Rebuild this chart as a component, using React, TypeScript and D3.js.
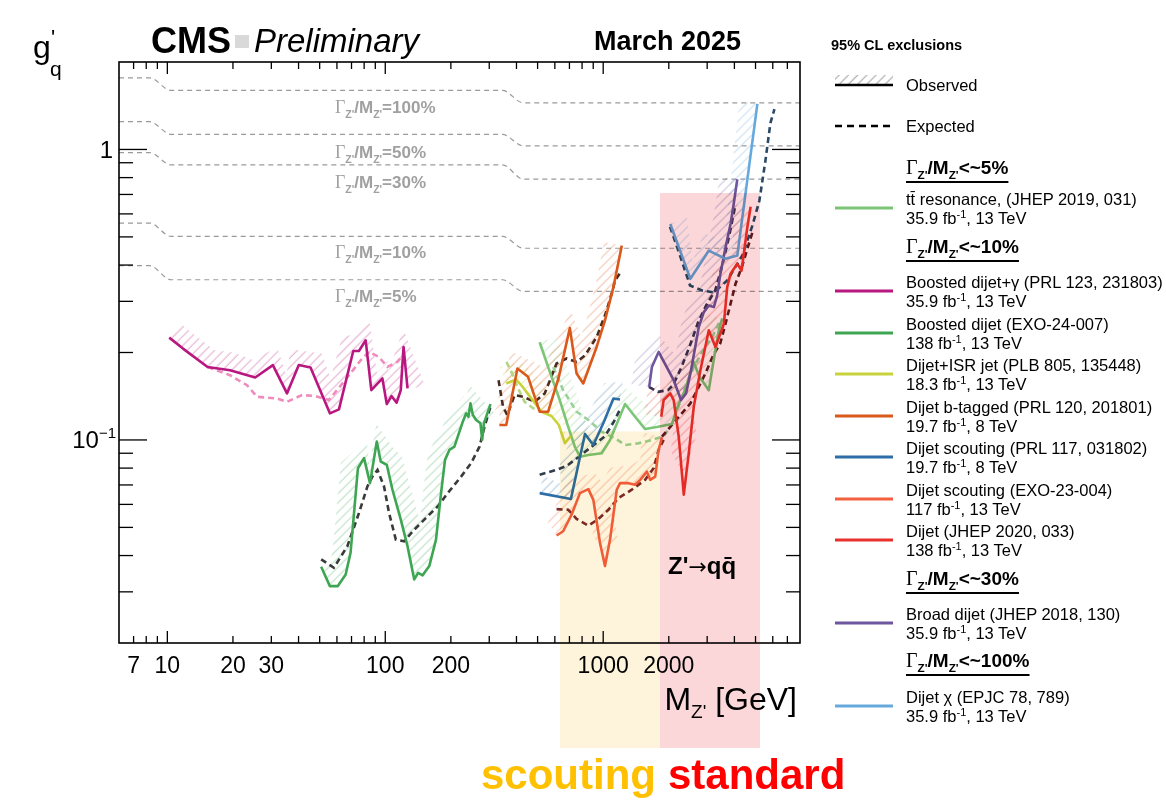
import React, { useEffect, useRef } from "react";
import * as d3 from "d3";

type Pt = [number, number];

// tick labels on the mass axis
const xTickLabels = [7, 10, 20, 30, 100, 200, 1000, 2000];

// Gamma/M reference curves: g'q below b threshold, between b and t, above t
const widthNames = ["100%", "50%", "30%", "10%", "5%"];
const widthLow = [1.763, 1.246, 0.975, 0.558, 0.398];
const widthMid = [1.596, 1.127, 0.885, 0.502, 0.356];
const widthHigh = [1.447, 1.028, 0.79, 0.457, 0.3245];
const widthLabelAt = [1.4, 0.982, 0.774, 0.444, 0.313];
const widthKnots = [6, 8.3, 10.4, 345, 430, 8000];

// [mass GeV, g'q]
const ttbarObs: Pt[] = [[511, 0.217], [569, 0.1715], [632, 0.1372], [691, 0.111], [741, 0.0948], [782, 0.0876], [855, 0.0888], [984, 0.09], [1075, 0.1], [1260, 0.1329], [1401, 0.1202], [1558, 0.109], [1764, 0.1108], [2069, 0.1135], [2182, 0.1288], [2375, 0.1484], [2604, 0.1856], [2754, 0.1658], [3052, 0.1484], [3229, 0.1927], [3395, 0.2384], [3517, 0.2621]];
const ttbarExp: Pt[] = [[590, 0.1784], [655, 0.1484], [755, 0.1251], [855, 0.1171], [984, 0.1068], [1133, 0.1013], [1260, 0.0961], [1453, 0.0974], [1673, 0.1], [1900, 0.1032], [2069, 0.1135], [2228, 0.1318], [2400, 0.1544], [2613, 0.1794], [2844, 0.2009], [3162, 0.2261], [3443, 0.258]];

const gammaObs: Pt[] = [[10.2, 0.225], [11.8, 0.2063], [15.3, 0.1784], [19.4, 0.1738], [25.3, 0.1641], [30.5, 0.181], [35.4, 0.1446], [40.1, 0.181], [45.4, 0.1776], [55.7, 0.1235], [61.3, 0.1274], [71.3, 0.2024], [75.7, 0.2024], [81.3, 0.2203], [86.3, 0.1484], [97, 0.1628], [101.6, 0.1329], [106.8, 0.1416], [112.7, 0.1343], [117.8, 0.1484], [121.3, 0.209], [126.5, 0.1504]];
const gammaExp: Pt[] = [[15.3, 0.1784], [19.4, 0.167], [23.2, 0.1544], [25.8, 0.1408], [31.8, 0.139], [35.4, 0.1353], [41.5, 0.1427], [47.8, 0.1416], [55.1, 0.1372], [65.8, 0.1615], [77.1, 0.188], [84.2, 0.2009], [93.6, 0.1931], [102.3, 0.1784], [113.7, 0.1856], [122.2, 0.1984]];

const boostedObs: Pt[] = [[50.8, 0.0366], [55.7, 0.0314], [60.6, 0.0314], [65.8, 0.0344], [69.3, 0.0409], [74.9, 0.0799], [79.9, 0.0866], [85.1, 0.071], [91.4, 0.0987], [95.3, 0.0843], [101.6, 0.0821], [107.9, 0.0674], [117.8, 0.0532], [126.5, 0.0431], [135.8, 0.0331], [141.6, 0.0349], [148.4, 0.0342], [159.2, 0.0368], [170.9, 0.0454], [180.3, 0.0656], [188, 0.0854], [196.8, 0.0924], [207.6, 0.0948], [226.9, 0.1156], [235, 0.1235], [240.8, 0.1202], [246, 0.1336], [252.4, 0.1218], [261.3, 0.1171], [273.4, 0.1141], [278.4, 0.1], [283.5, 0.1141], [304, 0.1329]];
const boostedExp: Pt[] = [[50.8, 0.0388], [58.1, 0.0363], [67, 0.0431], [75.7, 0.056], [82.8, 0.0692], [87.3, 0.0748], [92.1, 0.0789], [98.7, 0.0692], [104.1, 0.056], [111.8, 0.0454], [122.1, 0.0448], [135.8, 0.0491], [156.5, 0.0546], [174, 0.059], [193.4, 0.0656], [222.8, 0.0748], [247.7, 0.0832], [270.6, 0.0948], [285.3, 0.111], [304, 0.1301]];

const isrObs: Pt[] = [[359, 0.1565], [399, 0.1615], [429, 0.1516], [468, 0.139], [521, 0.1251], [579, 0.1209], [626, 0.1126], [667, 0.0974], [711, 0.1032]];
const isrExp: Pt[] = [[360, 0.1856], [379, 0.1715], [407, 0.1504], [436, 0.1353], [477, 0.1285], [511, 0.1268]];

const btagObs: Pt[] = [[334, 0.1126], [359, 0.1126], [404, 0.1762], [452, 0.1649], [511, 0.1251], [559, 0.1251], [626, 0.1649], [703, 0.2428], [755, 0.1694], [810, 0.1565], [933, 0.209], [1019, 0.258], [1114, 0.3357], [1217, 0.4666]];
const btagExp: Pt[] = [[331, 0.1606], [347, 0.1301], [363, 0.1218], [392, 0.1427], [429, 0.1408], [485, 0.1353], [539, 0.1446], [611, 0.1833], [679, 0.1907], [755, 0.1856], [826, 0.1956], [933, 0.2261], [1019, 0.2685], [1094, 0.3187], [1133, 0.3539], [1217, 0.383]];

const scout8Obs: Pt[] = [[511, 0.0656], [711, 0.0626], [763, 0.0801], [825, 0.1049], [901, 0.0961], [1002, 0.1144], [1114, 0.1388], [1195, 0.1377]];
const scout8Exp: Pt[] = [[511, 0.0759], [611, 0.0789], [679, 0.0814], [771, 0.0874], [885, 0.0948], [1016, 0.1028], [1118, 0.1153], [1191, 0.1268]];

const scout13Obs: Pt[] = [[611, 0.0469], [655, 0.0485], [716, 0.0553], [782, 0.0656], [855, 0.0677], [901, 0.0622], [967, 0.0442], [1019, 0.0368], [1075, 0.0454], [1154, 0.0674], [1195, 0.071], [1306, 0.071], [1401, 0.0701], [1478, 0.0729], [1587, 0.0778], [1643, 0.0729], [1733, 0.0748], [1796, 0.0924], [1860, 0.1022]];
const scout13Exp: Pt[] = [[611, 0.0578], [691, 0.0575], [755, 0.0535], [855, 0.0507], [951, 0.0535], [1057, 0.0575], [1175, 0.0631], [1353, 0.0674], [1558, 0.0729], [1703, 0.0799], [1796, 0.0924], [1894, 0.1]];

const dijetObs: Pt[] = [[1847, 0.1202], [1894, 0.1372], [2032, 0.1446], [2106, 0.1372], [2221, 0.1026], [2343, 0.0648], [2470, 0.09], [2604, 0.1301], [2793, 0.1738], [3052, 0.2384], [3275, 0.209], [3580, 0.2513], [3708, 0.3357], [3840, 0.3731], [4124, 0.4039], [4315, 0.383], [4584, 0.539], [4749, 0.6349]];
const dijetExp: Pt[] = [[1860, 0.1026], [2097, 0.1141], [2512, 0.1336], [2697, 0.1484], [2945, 0.1694], [3196, 0.1956], [3443, 0.2147], [3642, 0.2513], [3840, 0.2944], [4049, 0.3449], [4347, 0.3983], [4634, 0.4666], [4835, 0.517]];

const broadObs: Pt[] = [[1626, 0.1523], [1673, 0.1784], [1796, 0.2009], [2106, 0.1606], [2276, 0.1372], [2400, 0.1446], [2530, 0.1738], [2746, 0.2446], [2895, 0.2754], [3052, 0.2904], [3219, 0.2866], [3334, 0.3144], [3443, 0.37], [3642, 0.46], [3840, 0.5538], [3960, 0.64], [4124, 0.79]];
const broadExp: Pt[] = [[1621, 0.1522], [1783, 0.1464], [1983, 0.1484], [2091, 0.1544], [2276, 0.1766], [2503, 0.2118], [2726, 0.254], [2968, 0.2904], [3265, 0.327], [3517, 0.3983], [3788, 0.5049], [4036, 0.64]];

const chiObs: Pt[] = [[2032, 0.5538], [2512, 0.3586], [3052, 0.4486], [3642, 0.4201], [4124, 0.4311], [5099, 1.436]];
const chiExp: Pt[] = [[2025, 0.542], [2252, 0.4311], [2503, 0.3402], [2844, 0.327], [3229, 0.322], [3708, 0.3539], [4347, 0.4311], [4835, 0.5464], [5208, 0.6657], [5550, 0.9132], [5852, 1.233], [6107, 1.377]];

// shaded annotation regions (mass range, top g'q)
const scoutingRange = [634, 1823];
const standardRange = [1823, 5240];
const scoutingTop = 0.107;
const standardTop = 0.708;

// legend texts
const legendTitles = ["t\u0074\u0304 resonance, (JHEP 2019, 031)", "Boosted dijet+\u03b3  (PRL 123, 231803)", "Boosted dijet (EXO-24-007)", "Dijet+ISR jet (PLB 805, 135448)", "Dijet b-tagged (PRL 120, 201801)", "Dijet scouting (PRL 117, 031802)", "Dijet scouting (EXO-23-004)", "Dijet (JHEP 2020, 033)", "Broad dijet (JHEP 2018, 130)", "Dijet \u03c7 (EPJC 78, 789)"];
const legendLumi = ["35.9", "35.9", "138", "18.3", "19.7", "19.7", "117", "138", "35.9", "35.9"];
const legendEnergy = ["13", "13", "13", "13", "8", "8", "13", "13", "13", "13"];
const legendHeaders = ["<~5%", "<~10%", "<~30%", "<~100%"];

const series = [
  { obs: ttbarObs, exp: ttbarExp, color: "#7cc576", expColor: "#98d296" },
  { obs: gammaObs, exp: gammaExp, color: "#b8177f", expColor: "#f08cbc" },
  { obs: boostedObs, exp: boostedExp, color: "#3ea553", expColor: "#3a3a3a" },
  { obs: isrObs, exp: isrExp, color: "#c8d33c", expColor: "#b2d682" },
  { obs: btagObs, exp: btagExp, color: "#d9581a", expColor: "#4a2c20" },
  { obs: scout8Obs, exp: scout8Exp, color: "#2d6ea8", expColor: "#2f3d4d" },
  { obs: scout13Obs, exp: scout13Exp, color: "#f2603f", expColor: "#7e2a26" },
  { obs: dijetObs, exp: dijetExp, color: "#e8322b", expColor: "#5e1c1c" },
  { obs: broadObs, exp: broadExp, color: "#6e56a0", expColor: "#3a3350" },
  { obs: chiObs, exp: chiExp, color: "#66a9dc", expColor: "#2c4a68" },
];

const SANS = "'Liberation Sans', Arial, Helvetica, sans-serif";
const SERIF = "'Liberation Serif', 'Times New Roman', serif";

function gammaRatio(t: any, size: number, tail: string) {
  t.append("tspan").attr("font-family", SERIF).attr("font-weight", "normal").attr("font-size", size * 1.05).text("\u0393");
  t.append("tspan").attr("font-size", size * 0.62).attr("dy", size * 0.28).text("Z'");
  t.append("tspan").attr("dy", -size * 0.28).text("/M");
  t.append("tspan").attr("font-size", size * 0.62).attr("dy", size * 0.28).text("Z'");
  t.append("tspan").attr("dy", -size * 0.28).text(tail);
}

// band on the excluded (upper) side of an observed curve, offset along the normals
function hatchPath(p: number[][], w: number) {
  const n = p.length;
  const segN: number[][] = [];
  for (let i = 0; i < n - 1; i++) {
    const dx = p[i + 1][0] - p[i][0], dy = p[i + 1][1] - p[i][1];
    const len = Math.hypot(dx, dy) || 1;
    segN.push([dy / len, -dx / len]);
  }
  const off = p.map((pt, i) => {
    let nx = 0, ny = 0;
    if (i > 0) { nx += segN[i - 1][0]; ny += segN[i - 1][1]; }
    if (i < n - 1) { nx += segN[i][0]; ny += segN[i][1]; }
    const l = Math.hypot(nx, ny) || 1;
    return [pt[0] + (nx / l) * w, pt[1] + (ny / l) * w];
  });
  const all = p.concat(off.reverse());
  return "M" + all.map(q => q[0].toFixed(1) + "," + q[1].toFixed(1)).join("L") + "Z";
}

function drawChart(node: SVGSVGElement) {
  const svg = d3.select(node);
  svg.selectAll("*").remove();

  const x = d3.scaleLog().domain([6, 8000]).range([119, 800]);
  const y = d3.scaleLog().domain([0.02, 2]).range([643, 62]);
  const [left, right] = x.range();
  const [bottom, top] = y.range();

  svg.append("rect").attr("width", 1166).attr("height", 800).attr("fill", "#fff");

  const defs = svg.append("defs");
  defs.append("clipPath").attr("id", "plotClip").append("rect")
    .attr("x", left).attr("y", top).attr("width", right - left).attr("height", bottom - top);

  const makeHatch = (id: string, color: string, op: number) => {
    const p = defs.append("pattern").attr("id", id).attr("patternUnits", "userSpaceOnUse")
      .attr("width", 6.5).attr("height", 6.5).attr("patternTransform", "rotate(45)");
    p.append("line").attr("x1", 3).attr("y1", 0).attr("x2", 3).attr("y2", 6.5)
      .attr("stroke", color).attr("stroke-width", 0.9).attr("stroke-opacity", op);
  };
  series.forEach((s, i) => makeHatch("hatch" + i, s.color, 0.42));
  makeHatch("hatchLegend", "#777", 0.8);

  const line = d3.line<Pt>().x(d => x(d[0])).y(d => y(d[1]));
  const smooth = d3.line<Pt>().x(d => x(d[0])).y(d => y(d[1])).curve(d3.curveMonotoneX);

  const plot = svg.append("g").attr("clip-path", "url(#plotClip)");

  // width reference curves
  widthLow.forEach((lo, i) => {
    const vals = [lo, lo, widthMid[i], widthMid[i], widthHigh[i], widthHigh[i]];
    const pts = widthKnots.map((m, j) => [m, vals[j]] as Pt);
    plot.append("path").attr("d", smooth(pts)).attr("fill", "none")
      .attr("stroke", "#9a9a9a").attr("stroke-width", 1.2).attr("stroke-dasharray", "5,4");
  });
  widthNames.forEach((nm, i) => {
    const t = svg.append("text").attr("x", x(58.8)).attr("y", y(widthLabelAt[i]) + 6)
      .attr("font-family", SANS).attr("font-weight", "bold").attr("font-size", 17).attr("fill", "#a0a0a0");
    gammaRatio(t, 17, "=" + nm);
  });

  // hatched exclusion side
  series.forEach((s, i) => {
    const px = s.obs.map(d => [x(d[0]), y(d[1])]);
    plot.append("path").attr("d", hatchPath(px, 18)).attr("fill", `url(#hatch${i})`).attr("stroke", "none");
  });
  // expected
  series.forEach(s => {
    plot.append("path").attr("d", line(s.exp)).attr("fill", "none").attr("stroke", s.expColor)
      .attr("stroke-width", 2.6).attr("stroke-dasharray", "6,4");
  });
  // observed
  series.forEach(s => {
    plot.append("path").attr("d", line(s.obs)).attr("fill", "none").attr("stroke", s.color)
      .attr("stroke-width", 2.6).attr("stroke-linejoin", "round");
  });

  // frame and ticks
  const axes = svg.append("g").attr("stroke", "#000");
  axes.append("rect").attr("x", left).attr("y", top).attr("width", right - left).attr("height", bottom - top)
    .attr("fill", "none").attr("stroke-width", 1.6);
  const xMajor = [10, 100, 1000];
  const xMinor: number[] = [];
  [1, 10, 100, 1000].forEach(dec => { for (let k = 2; k <= 9; k++) { const v = k * dec; if (v > 6 && v < 8000 && !xMajor.includes(v)) xMinor.push(v); } });
  xMajor.concat(xMinor).forEach(v => {
    const len = xMajor.includes(v) ? 12 : 7;
    axes.append("line").attr("x1", x(v)).attr("x2", x(v)).attr("y1", bottom).attr("y2", bottom - len).attr("stroke-width", 1.3);
    axes.append("line").attr("x1", x(v)).attr("x2", x(v)).attr("y1", top).attr("y2", top + len).attr("stroke-width", 1.3);
  });
  const yMajor = [0.1, 1];
  const yMinor: number[] = [];
  [0.01, 0.1, 1].forEach(dec => { for (let k = 2; k <= 9; k++) { const v = +(k * dec).toFixed(3); if (v > 0.02 && v < 2) yMinor.push(v); } });
  yMajor.concat(yMinor).forEach(v => {
    const len = yMajor.includes(v) ? 28 : 14;
    axes.append("line").attr("x1", left).attr("x2", left + len).attr("y1", y(v)).attr("y2", y(v)).attr("stroke-width", 1.3);
    axes.append("line").attr("x1", right).attr("x2", right - len).attr("y1", y(v)).attr("y2", y(v)).attr("stroke-width", 1.3);
  });

  xTickLabels.forEach(v => {
    svg.append("text").attr("x", x(v)).attr("y", 673).attr("text-anchor", "middle")
      .attr("font-family", SANS).attr("font-size", 23).text(String(v));
  });
  svg.append("text").attr("x", 113).attr("y", y(1) + 8.5).attr("text-anchor", "end")
    .attr("font-family", SANS).attr("font-size", 24).text("1");
  const tm = svg.append("text").attr("x", 116).attr("y", y(0.1) + 8.5).attr("text-anchor", "end")
    .attr("font-family", SANS).attr("font-size", 24);
  tm.append("tspan").text("10");
  tm.append("tspan").attr("font-size", 15).attr("dy", -10).text("\u22121");

  // axis titles
  const mt = svg.append("text").attr("x", 797).attr("y", 710).attr("text-anchor", "end")
    .attr("font-family", SANS).attr("font-size", 32);
  mt.append("tspan").text("M");
  mt.append("tspan").attr("font-size", 19).attr("dy", 8).text("Z'");
  mt.append("tspan").attr("dy", -8).text(" [GeV]");
  svg.append("text").attr("x", 33).attr("y", 58).attr("font-family", SANS).attr("font-size", 32).text("g");
  svg.append("text").attr("x", 51).attr("y", 45).attr("font-family", SANS).attr("font-size", 22).text("'");
  svg.append("text").attr("x", 50).attr("y", 76).attr("font-family", SANS).attr("font-size", 21).text("q");

  // header
  svg.append("text").attr("x", 151).attr("y", 53).attr("font-family", SANS).attr("font-weight", "bold")
    .attr("font-size", 36).text("CMS");
  svg.append("rect").attr("x", 235).attr("y", 35).attr("width", 14).attr("height", 13).attr("fill", "#d9d9d9");
  svg.append("text").attr("x", 254).attr("y", 52).attr("font-family", SANS).attr("font-style", "italic")
    .attr("font-size", 33).text("Preliminary");
  svg.append("text").attr("x", 594).attr("y", 50).attr("font-family", SANS).attr("font-weight", "bold")
    .attr("font-size", 27).text("March 2025");
  const zq = svg.append("text").attr("x", 668).attr("y", 574).attr("font-family", SANS).attr("font-weight", "bold")
    .attr("font-size", 24);
  zq.append("tspan").text("Z'");
  zq.append("tspan").attr("font-family", "'DejaVu Sans', sans-serif").attr("font-weight", "normal").attr("font-size", 22).text("\u2192");
  zq.append("tspan").text("qq\u0304");

  // legend
  const lg = svg.append("g").attr("font-family", SANS);
  const lx1 = 835, lx2 = 893, tx = 906;
  lg.append("text").attr("x", 831).attr("y", 50).attr("font-weight", "bold").attr("font-size", 14.5).text("95% CL exclusions");
  lg.append("rect").attr("x", lx1).attr("y", 75).attr("width", lx2 - lx1).attr("height", 10).attr("fill", "url(#hatchLegend)");
  lg.append("line").attr("x1", lx1).attr("x2", lx2).attr("y1", 85).attr("y2", 85).attr("stroke", "#000").attr("stroke-width", 2.6);
  lg.append("text").attr("x", tx).attr("y", 91).attr("font-size", 16.5).text("Observed");
  lg.append("line").attr("x1", lx1).attr("x2", lx2).attr("y1", 126).attr("y2", 126).attr("stroke", "#000")
    .attr("stroke-width", 2.6).attr("stroke-dasharray", "7,5");
  lg.append("text").attr("x", tx).attr("y", 132).attr("font-size", 16.5).text("Expected");

  const headerY = [174, 253, 585, 667];
  legendHeaders.forEach((h, i) => {
    const t = lg.append("text").attr("x", tx).attr("y", headerY[i]).attr("font-weight", "bold").attr("font-size", 19);
    gammaRatio(t, 19, h);
    const w = (t.node() as SVGTextElement).getBBox().width;
    lg.append("line").attr("x1", tx).attr("x2", tx + w).attr("y1", headerY[i] + 8).attr("y2", headerY[i] + 8)
      .attr("stroke", "#000").attr("stroke-width", 2.2);
  });

  const entryY = [208, 291, 333, 374, 416, 457, 499, 540, 623, 706];
  legendTitles.forEach((title, i) => {
    const ly = entryY[i];
    lg.append("line").attr("x1", lx1).attr("x2", lx2).attr("y1", ly).attr("y2", ly)
      .attr("stroke", series[i].color).attr("stroke-width", 3);
    lg.append("text").attr("x", tx).attr("y", ly - 3.5).attr("font-size", 16.5).text(title);
    const t2 = lg.append("text").attr("x", tx).attr("y", ly + 16).attr("font-size", 16.5);
    t2.append("tspan").text(legendLumi[i] + " fb");
    t2.append("tspan").attr("font-size", 11).attr("dy", -6).text("-1");
    t2.append("tspan").attr("dy", 6).text(", " + legendEnergy[i] + " TeV");
  });

  // scouting / standard regions
  const bandBottom = 748;
  const bands = [
    { r: scoutingRange, top: scoutingTop, fill: "#fdf4db" },
    { r: standardRange, top: standardTop, fill: "#fbd7da" },
  ];
  bands.forEach(b => {
    svg.append("rect").attr("x", x(b.r[0])).attr("width", x(b.r[1]) - x(b.r[0]))
      .attr("y", y(b.top)).attr("height", bandBottom - y(b.top)).attr("fill", b.fill)
      .style("mix-blend-mode", "multiply");
  });
  svg.append("text").attr("x", 481).attr("y", 789).attr("font-family", SANS).attr("font-weight", "bold")
    .attr("font-size", 42).attr("fill", "#ffc000").text("scouting");
  svg.append("text").attr("x", 668).attr("y", 789).attr("font-family", SANS).attr("font-weight", "bold")
    .attr("font-size", 42).attr("fill", "#ff0000").text("standard");
}

export default function App() {
  const ref = useRef<SVGSVGElement>(null);
  useEffect(() => {
    if (ref.current) drawChart(ref.current);
  }, []);
  return (
    <div>
      <style>{`body{margin:0}`}</style>
      <svg ref={ref} width={1166} height={800} style={{ display: "block" }} />
    </div>
  );
}
